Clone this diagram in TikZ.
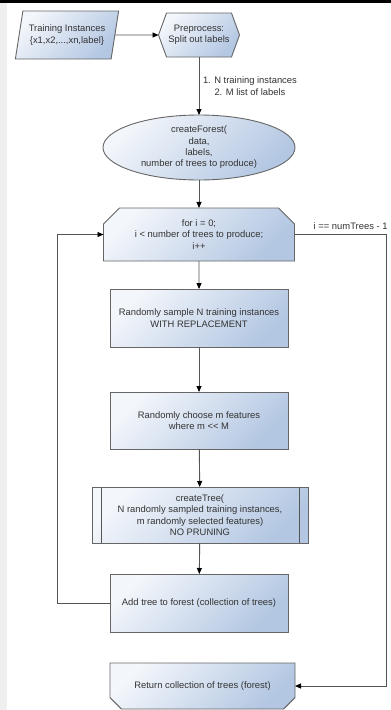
\documentclass[tikz,border=0pt]{standalone}
\usepackage{fontspec}
\setmainfont{Liberation Sans}
\usetikzlibrary{arrows.meta,shapes.geometric,shapes.symbols,shapes.misc}
\definecolor{forestLight}{HTML}{F3F6FB}
\definecolor{forestDark}{HTML}{B3C7E2}
\definecolor{forestLine}{HTML}{555555}
\definecolor{forestBorder}{HTML}{666666}
\definecolor{forestText}{HTML}{333333}
\definecolor{forestStrip}{HTML}{EFEFEF}
\tikzset{
  forest chart/.style={
    line width=0.9pt,
    >={Triangle[length=6pt,width=5pt,color=black]},
    every node/.style={font=\fontsize{9.4}{11.3}\selectfont,
      text=forestText, inner sep=0pt, outer sep=0pt, align=center}
  },
  forest box/.style={draw=forestBorder, top color=forestLight,
    bottom color=forestDark, shading angle=45},
  forest step/.style={forest box, rectangle, minimum width=178pt, minimum height=58pt},
  forest edge/.style={draw=forestLine}
}
\newcommand{\ForestSideBars}[2]{%
  \draw[forest edge] ([xshift=#2]#1.north west) -- ([xshift=#2]#1.south west);
  \draw[forest edge] ([xshift=-#2]#1.north east) -- ([xshift=-#2]#1.south east);
}
\begin{document}
\begin{tikzpicture}[forest chart,x=1pt,y=-1pt]
    \useasboundingbox (0,0) rectangle (391,710);
    \fill[white] (0,0) rectangle (391,710);
    \fill[forestStrip] (0,0) rectangle (7,710);
    \fill[black] (0,0) rectangle (391,3);
    \node[forest box, trapezium, trapezium left angle=72, trapezium right angle=108,
      trapezium stretches=true, minimum width=104pt, minimum height=48pt] (input) at (67,35)
      {Training Instances\\\{x1,x2,...,xn,label\}};
    \node[forest box, signal, signal to=west and east, signal pointer angle=140,
      minimum width=81pt, minimum height=44pt] (prep) at (199,35) {Preprocess:\\Split out labels};
    \node[forest box, ellipse, minimum width=192pt, minimum height=65pt] (create) at (199,147.5)
      {createForest(\\data,\\labels,\\number of trees to produce)};
    \node[forest box, chamfered rectangle, chamfered rectangle corners={north west,north east},
      chamfered rectangle xsep=8pt, chamfered rectangle ysep=8pt,
      minimum width=191pt, minimum height=53pt] (loop) at (199,234.5)
      {for i = 0;\\i < number of trees to produce;\\i++};
    \node[forest step] (sample) at (199,318) {Randomly sample N training instances\\WITH REPLACEMENT};
    \node[forest step, minimum height=57pt] (choose) at (199,420.5) {Randomly choose m features\\where m <{}< M};
    \node[forest step, minimum width=216pt, minimum height=56pt] (grow) at (200,515)
      {createTree(\\N randomly sampled training instances,\\m randomly selected features)\\NO PRUNING};
    \ForestSideBars{grow}{9pt}
    \node[forest step] (add) at (199,603) {Add tree to forest (collection of trees)};
    \node[forest box, chamfered rectangle, chamfered rectangle corners={south west,south east},
      chamfered rectangle xsep=7pt, chamfered rectangle ysep=7pt,
      minimum width=185pt, minimum height=46pt] (result) at (202.5,686)
      {Return collection of trees (forest)};
    \draw[forest edge,->] (input) -- (prep);
    \draw[forest edge,->] (prep) -- node[anchor=west,xshift=4pt]
      {1. N training instances\\2. M list of labels} (create);
    \draw[forest edge,->] (create) -- (loop);
    \draw[forest edge,->] (loop) -- (sample);
    \draw[forest edge,->] (sample) -- (choose);
    \draw[forest edge,->] (choose) -- (grow);
    \draw[forest edge,->] (grow) -- (add);
    \draw[forest edge,->] (add.west) -- ++(-53,0) |- (loop.west);
    \draw[forest edge,->] (loop.east) -- node[pos=0.61,above=5pt] {i == numTrees - 1}
      ++(92,0) |- (result.east);
\end{tikzpicture}
\end{document}
